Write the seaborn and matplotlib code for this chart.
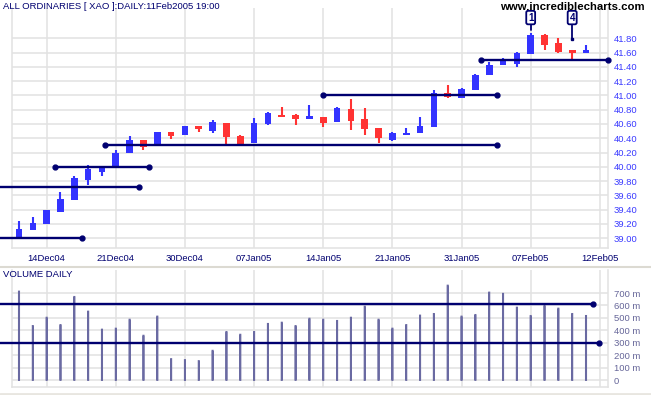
import matplotlib
matplotlib.use("Agg")
import matplotlib.pyplot as plt
import numpy as np
import pandas as pd
import seaborn as sns

# ---- data: ALL ORDINARIES daily, 10 Dec 2004 .. 11 Feb 2005 ----
days = ["10Dec04", "13Dec04", "14Dec04", "15Dec04", "16Dec04", "17Dec04", "20Dec04",
        "21Dec04", "22Dec04", "23Dec04", "24Dec04", "29Dec04", "30Dec04", "31Dec04",
        "04Jan05", "05Jan05", "06Jan05", "07Jan05", "10Jan05", "11Jan05", "12Jan05",
        "13Jan05", "14Jan05", "17Jan05", "18Jan05", "19Jan05", "20Jan05", "21Jan05",
        "24Jan05", "25Jan05", "27Jan05", "28Jan05", "31Jan05", "01Feb05", "02Feb05",
        "03Feb05", "04Feb05", "07Feb05", "08Feb05", "09Feb05", "10Feb05", "11Feb05"]
opens = [38.99, 39.11, 39.20, 39.37, 39.54, 39.82, 39.93, 39.99, 40.19, 40.37, 40.30,
         40.49, 40.45, 40.57, 40.50, 40.61, 40.43, 40.34, 40.60, 40.73, 40.72, 40.67,
         40.70, 40.63, 40.81, 40.67, 40.55, 40.37, 40.45, 40.48, 40.56, 41.03, 40.96,
         41.07, 41.28, 41.42, 41.44, 41.58, 41.85, 41.74, 41.64, 41.59]
highs = [39.24, 39.30, 39.40, 39.65, 39.87, 40.03, 40.00, 40.24, 40.43, 40.37, 40.49,
         40.49, 40.57, 40.57, 40.65, 40.61, 40.44, 40.68, 40.77, 40.84, 40.74, 40.87,
         40.70, 40.84, 40.95, 40.82, 40.55, 40.49, 40.54, 40.70, 41.07, 41.15, 41.10,
         41.30, 41.47, 41.53, 41.61, 41.88, 41.86, 41.80, 41.64, 41.71]
lows = [38.99, 39.11, 39.20, 39.37, 39.53, 39.75, 39.87, 39.99, 40.19, 40.23, 40.30,
        40.39, 40.45, 40.49, 40.48, 40.32, 40.31, 40.34, 40.58, 40.70, 40.59, 40.67,
        40.56, 40.63, 40.52, 40.44, 40.33, 40.36, 40.45, 40.48, 40.56, 40.97, 40.96,
        41.07, 41.28, 41.42, 41.40, 41.58, 41.64, 41.59, 41.50, 41.59]
closes = [39.13, 39.21, 39.39, 39.55, 39.85, 39.97, 39.99, 40.19, 40.37, 40.28, 40.49,
          40.43, 40.57, 40.53, 40.63, 40.42, 40.32, 40.62, 40.75, 40.70, 40.67, 40.71,
          40.62, 40.82, 40.64, 40.53, 40.40, 40.48, 40.48, 40.57, 41.03, 40.98, 41.09,
          41.28, 41.43, 41.48, 41.59, 41.85, 41.70, 41.61, 41.59, 41.63]
volume_m = [712, 435, 502, 443, 669, 551, 406, 414, 486, 357, 511, 169, 161, 153, 236,
            387, 365, 387, 452, 462, 435, 494, 486, 476, 502, 591, 486, 414, 443, 519,
            532, 760, 511, 524, 704, 694, 583, 516, 597, 575, 532, 516]

tick_pos = [2, 7, 12, 17, 22, 27, 32, 37, 42]
tick_labels = ["14Dec04", "21Dec04", "30Dec04", "07Jan05", "14Jan05", "21Jan05",
               "31Jan05", "07Feb05", "12Feb05"]

# support / resistance lines drawn on the price panel (level, from day, to day)
sr_levels = [39.01, 39.72, 40.00, 40.31, 41.01, 41.50]
sr_start = [-1.37, -1.37, 2.6, 6.22, 21.98, 33.4]
sr_end = [4.56, 8.68, 9.4, 34.56, 34.56, 42.59]
sr_left_dot = [False, False, True, True, True, True]

# volume lines
vol_levels = [610, 300]
vol_end = [41.5, 41.94]

# count signals
mark_days = [37, 40]
mark_text = ["1", "4"]
mark_line_end = [41.92, 41.79]

df = pd.DataFrame({"day": days, "open": opens, "high": highs, "low": lows,
                   "close": closes, "volume": volume_m})
df["i"] = np.arange(len(df))

sns.set_style("white")
plt.rcParams["font.family"] = ["Liberation Sans", "DejaVu Sans"]

BLUE = "#3333ff"
RED = "#ff3333"
NAVY = "#000070"
GRID = "#e2e2e2"
VOLC = "#6a6aa2"

fig = plt.figure(figsize=(6.51, 3.95), dpi=100)
W, H = 651, 395
ax = fig.add_axes([12 / W, (H - 248) / H, 596 / W, 240 / H])
axv = fig.add_axes([12 / W, (H - 387) / H, 596 / W, 117 / H])

# -------- price panel --------
up = df["close"] >= df["open"]
colors = np.where(up, BLUE, RED)
ax.vlines(df["i"], df["low"], df["high"], color=colors, lw=1.5, zorder=3)
body_lo = np.minimum(df["open"], df["close"])
body_h = np.maximum((df["close"] - df["open"]).abs(), 0.03)
ax.bar(df["i"], body_h, bottom=body_lo, width=0.48, color=colors, lw=0, zorder=4)

for lvl, s, e, ld in zip(sr_levels, sr_start, sr_end, sr_left_dot):
    ax.plot([s, e], [lvl, lvl], color=NAVY, lw=1.7, clip_on=False, zorder=5)
    ax.plot([e], [lvl], "o", color=NAVY, ms=3.5, clip_on=False, zorder=5)
    if ld:
        ax.plot([s], [lvl], "o", color=NAVY, ms=3.5, clip_on=False, zorder=5)

for d, t, le in zip(mark_days, mark_text, mark_line_end):
    ax.plot([d, d], [42.03, le], color=NAVY, lw=1.3, clip_on=False, zorder=5)
    if t == "4":
        ax.plot([d], [le], "s", color=NAVY, ms=1.8, clip_on=False, zorder=5)
    ax.text(d, 42.09, t, ha="center", va="center", fontsize=7, fontweight="bold",
            color=NAVY, clip_on=False, zorder=6,
            bbox=dict(boxstyle="round,pad=0.18", fc="white", ec=NAVY, lw=1.3))

ax.set_xlim(-0.506, 42.59)
ax.set_ylim(38.864, 42.224)
ax.set_yticks(np.round(np.arange(39.0, 41.81, 0.2), 2))
ax.set_yticklabels([f"{v:.2f}" for v in np.arange(39.0, 41.81, 0.2)])
ax.set_xticks(tick_pos)
ax.set_xticklabels(tick_labels)
ax.yaxis.tick_right()
ax.tick_params(axis="y", length=0, pad=4, labelsize=6.8, labelcolor="#3a3aff")
ax.tick_params(axis="x", length=0, pad=4.5, labelsize=6.8, labelcolor=NAVY)
ax.grid(True, color=GRID, lw=1.1)
ax.set_axisbelow(True)
for side in ["left", "bottom", "right"]:
    ax.spines[side].set_color(GRID)
    ax.spines[side].set_linewidth(1.1)
ax.spines["top"].set_visible(False)

# -------- volume panel --------
# very narrow bars with a fixed-width edge give even thin sticks
sns.barplot(data=df, x="i", y="volume", native_scale=True, width=0.02,
            color=VOLC, saturation=1, edgecolor=VOLC, linewidth=1.3,
            errorbar=None, snap=False, ax=axv, zorder=3)
for lvl, e in zip(vol_levels, vol_end):
    axv.plot([-1.37, e], [lvl, lvl], color=NAVY, lw=1.7, clip_on=False, zorder=5)
    axv.plot([e], [lvl], "o", color=NAVY, ms=3.5, clip_on=False, zorder=5)

axv.set_xlim(-0.506, 42.59)
axv.set_ylim(-56, 885)
axv.set_yticks(range(0, 701, 100))
axv.set_yticklabels(["0"] + [f"{v} m" for v in range(100, 701, 100)])
axv.set_xticks(tick_pos)
axv.set_xticklabels([])
axv.set_xlabel("")
axv.set_ylabel("")
axv.yaxis.tick_right()
axv.tick_params(axis="y", length=0, pad=4, labelsize=6.8, labelcolor="#666699")
axv.tick_params(axis="x", length=0)
axv.grid(True, color=GRID, lw=1.1)
axv.set_axisbelow(True)
for side in ["left", "bottom", "right"]:
    axv.spines[side].set_color(GRID)
    axv.spines[side].set_linewidth(1.1)
axv.spines["top"].set_visible(False)

# -------- texts / frame --------
fig.text(3 / W, 1 - 6.5 / H, "ALL ORDINARIES [ XAO ]:DAILY:11Feb2005 19:00",
         fontsize=6.8, color=NAVY, va="center", ha="left")
fig.text(645 / W, 1 - 7.5 / H, "www.incrediblecharts.com", fontsize=8.2,
         fontweight="bold", color="black", va="center", ha="right")
fig.text(3 / W, 1 - 274.5 / H, "VOLUME DAILY", fontsize=6.8, color=NAVY,
         va="center", ha="left")
fig.add_artist(plt.Line2D([0, 1], [1 - 267 / H, 1 - 267 / H], color="#dcdad2", lw=1.5))
fig.add_artist(plt.Line2D([0, 1], [1 - 393.5 / H, 1 - 393.5 / H], color="#e8e6e0", lw=2))

fig.savefig("out.png", dpi=100)
